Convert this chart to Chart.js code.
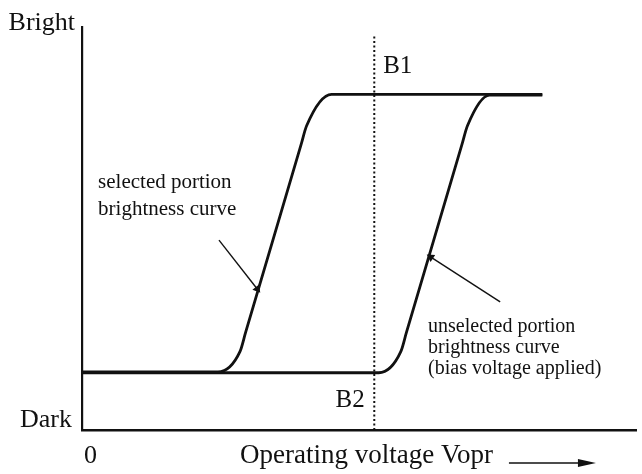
<!DOCTYPE html>
<html>
<head>
<meta charset="utf-8">
<script src="https://cdn.jsdelivr.net/npm/chart.js@4"></script>
<style>
  html, body { margin: 0; padding: 0; background: #fff; }
  #wrap { width: 642px; height: 474px; position: relative; }
</style>
</head>
<body>
<div id="wrap"><canvas id="chart"></canvas></div>
<script>
  // operating voltage (0..100 of axis) vs brightness (0 = bottom, 100 = top)
  const selectedV   = [0, 24.5, 28.5, 29.5, 39.5, 40.5, 45.0, 83.0];
  const selectedB   = [14.4, 14.4, 19.5, 24.2, 70.8, 75.5, 83.3, 83.3];
  const unselectedV = [0, 53.5, 57.5, 58.5, 68.5, 69.5, 73.5, 83.0];
  const unselectedB = [14.2, 14.2, 19.5, 24.2, 70.8, 75.5, 83.1, 83.1];

  // dotted marker line B1/B2
  const markerV = [52.7, 52.7];
  const markerB = [0, 98];

  // leader lines from the labels to the curves (second point touches the curve)
  const selLeaderV = [24.7, 31.6];
  const selLeaderB = [47.1, 35.0];
  const unselLeaderV = [75.4, 62.9];
  const unselLeaderB = [31.8, 42.9];

  const yLabels = ['Bright', 'Dark'];
  const xLabels = ['0', 'Operating voltage Vopr'];
  const markerLabels = ['B1', 'B2'];
  const selectedText = ['selected portion', 'brightness curve'];
  const unselectedText = ['unselected portion', 'brightness curve', '(bias voltage applied)'];

  const INK = '#111';
  const SERIF = '"Liberation Serif", "Times New Roman", serif';

  function pts(xs, ys){
    return xs.map((x, i) => ({x, y: ys[i]}));
  }

  const textPlugin = {
    id: 'diagramText',
    afterDatasetsDraw(chart){
      const {ctx, chartArea: a} = chart;
      const sx = chart.scales.x, sy = chart.scales.y;
      const px = v => sx.getPixelForValue(v);
      const py = v => sy.getPixelForValue(v);
      ctx.save();
      ctx.fillStyle = INK;
      ctx.strokeStyle = INK;
      ctx.textBaseline = 'alphabetic';

      // axis end labels
      ctx.font = '26px ' + SERIF;
      ctx.textAlign = 'right';
      ctx.fillText(yLabels[0], a.left - 7, a.top + 3);
      ctx.fillText(yLabels[1], a.left - 10, a.bottom - 3);
      ctx.textAlign = 'left';
      ctx.fillText(xLabels[0], a.left + 2, a.bottom + 33);
      ctx.font = '27px ' + SERIF;
      ctx.fillText(xLabels[1], 240, a.bottom + 33);
      const w = ctx.measureText(xLabels[1]).width;

      // arrow after the axis title
      const ay = a.bottom + 33;
      const ax0 = 240 + w + 16, ax1 = ax0 + 87;
      ctx.lineWidth = 1.5;
      ctx.beginPath();
      ctx.moveTo(ax0, ay);
      ctx.lineTo(ax1 - 14, ay);
      ctx.stroke();
      ctx.beginPath();
      ctx.moveTo(ax1, ay);
      ctx.lineTo(ax1 - 18, ay - 4);
      ctx.lineTo(ax1 - 18, ay + 4);
      ctx.closePath();
      ctx.fill();

      // B1 / B2
      ctx.font = '25px ' + SERIF;
      ctx.fillText(markerLabels[0], px(54.3), py(88.6));
      ctx.fillText(markerLabels[1], px(45.7), py(5.7));

      // curve labels
      ctx.font = '21px ' + SERIF;
      const selY = [60.0, 53.3];
      selectedText.forEach((t, i) => ctx.fillText(t, px(2.9), py(selY[i])));
      ctx.font = '20px ' + SERIF;
      const unY = [24.3, 19.1, 13.9];
      unselectedText.forEach((t, i) => ctx.fillText(t, px(62.4), py(unY[i])));
      ctx.restore();
    }
  };

  const curve = {
    borderColor: INK,
    borderWidth: 2.8,
    pointRadius: 0,
    fill: false,
    cubicInterpolationMode: 'monotone'
  };

  new Chart(document.getElementById('chart'), {
    type: 'line',
    data: {
      datasets: [
        Object.assign({label: 'selected portion', data: pts(selectedV, selectedB)}, curve),
        Object.assign({label: 'unselected portion', data: pts(unselectedV, unselectedB)}, curve),
        {
          label: 'B1-B2',
          data: pts(markerV, markerB),
          borderColor: INK,
          borderWidth: 2,
          borderDash: [2, 2.5],
          pointRadius: 0
        },
        {
          label: 'selected leader',
          data: pts(selLeaderV, selLeaderB),
          borderColor: INK,
          backgroundColor: INK,
          borderWidth: 1.4,
          pointRadius: [0, 3.5],
          pointStyle: 'triangle',
          pointRotation: 142
        },
        {
          label: 'unselected leader',
          data: pts(unselLeaderV, unselLeaderB),
          borderColor: INK,
          backgroundColor: INK,
          borderWidth: 1.4,
          pointRadius: [0, 3.5],
          pointStyle: 'triangle',
          pointRotation: -57
        }
      ]
    },
    options: {
      responsive: true,
      maintainAspectRatio: false,
      animation: false,
      events: [],
      layout: { padding: { left: 82, top: 27, right: 2, bottom: 44 } },
      scales: {
        x: {
          type: 'linear',
          min: 0, max: 100,
          ticks: { display: false },
          grid: { display: false, drawTicks: false },
          border: { display: true, color: INK, width: 2.5 }
        },
        y: {
          type: 'linear',
          min: 0, max: 100,
          ticks: { display: false },
          grid: { display: false, drawTicks: false },
          border: { display: true, color: INK, width: 2.2 }
        }
      },
      plugins: {
        legend: { display: false },
        tooltip: { enabled: false }
      }
    },
    plugins: [textPlugin]
  });
</script>
</body>
</html>
